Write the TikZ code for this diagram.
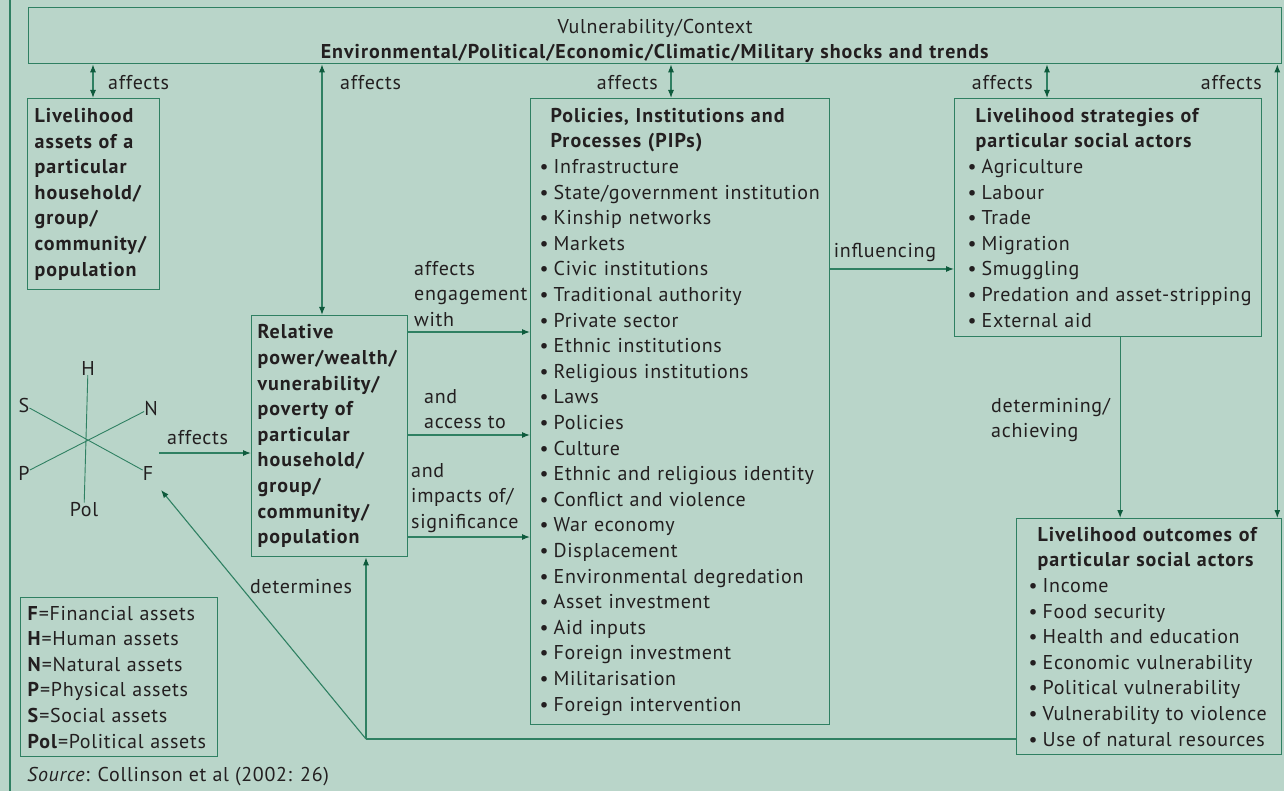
\documentclass[tikz,border=0pt]{standalone}
\usepackage{fontspec}
\setmainfont{PT Sans}[LetterSpace=3.5,BoldFeatures={LetterSpace=5}]
\usetikzlibrary{arrows.meta}

\definecolor{sage}{HTML}{B9D5C9}
\definecolor{rule}{HTML}{2F8062}
\definecolor{tip}{HTML}{0E5A3C}
\definecolor{ink}{HTML}{231F20}

\newcommand{\txtsize}{\fontsize{20}{25.6}\selectfont}
\newcommand{\itm}[1]{\\\mbox{\makebox[14pt][l]{\textbullet}#1}}
\newcommand{\ttl}[2][9pt]{\mbox{\hspace*{#1}\textbf{#2}}}

\tikzstyle{box} = [draw=rule,line width=1.3pt,anchor=north west,align=left,inner ysep=0pt,text=ink,font=\txtsize]
\tikzstyle{lbl} = [inner sep=0pt,text=ink,font=\txtsize]
\tikzstyle{plain} = [draw=rule,line width=1.1pt]
\tikzstyle{link} = [plain,-{Latex[length=8pt,width=6pt,color=tip]}]
\tikzstyle{both link} = [plain,{Latex[length=8pt,width=6pt,color=tip]}-{Latex[length=8pt,width=6pt,color=tip]}]

\begin{document}
\begin{tikzpicture}[x=1pt,y=-1pt]
			\useasboundingbox (0,0) rectangle (1284,791);
			\fill[sage] (0,0) rectangle (1284,791);
			\draw[plain] (10,0) -- (10,791);
			% First we draw the boxes
			\node[box,align=center,text width=1233pt,inner xsep=10pt,minimum height=56pt] (context) at (28,7)
				{\rule{0pt}{25pt}Vulnerability/Context\\\textbf{Environmental/Political/Economic/Climatic/Military shocks and trends}};
			\node[box,text width=118pt,inner xsep=7pt,minimum height=191pt] (assets) at (27,98)
				{\textbf{Livelihood\\assets of a\\particular\\household/\\group/\\community/\\population}};
			\node[box,text width=144pt,inner xsep=6pt,minimum height=241pt] (relative) at (251,315)
				{\textbf{Relative\\power/wealth/\\vunerability/\\poverty of\\particular\\household/\\group/\\community/\\population}};
			\node[box,text width=281pt,inner xsep=9pt,minimum height=626pt] (pips) at (530,98)
				{\ttl[11pt]{Policies, Institutions and}\\\ttl[11pt]{Processes (PIPs)}
				\itm{Infrastructure}\itm{State/government institution}\itm{Kinship networks}
				\itm{Markets}\itm{Civic institutions}\itm{Traditional authority}\itm{Private sector}
				\itm{Ethnic institutions}\itm{Religious institutions}\itm{Laws}\itm{Policies}
				\itm{Culture}\itm{Ethnic and religious identity}\itm{Conflict and violence}
				\itm{War economy}\itm{Displacement}\itm{Environmental degredation}
				\itm{Asset investment}\itm{Aid inputs}\itm{Foreign investment}
				\itm{Militarisation}\itm{Foreign intervention}};
			\node[box,text width=281pt,inner xsep=13pt,minimum height=238pt] (strat) at (954,98)
				{\ttl[8pt]{Livelihood strategies of}\\\ttl[8pt]{particular social actors}
				\itm{Agriculture}\itm{Labour}\itm{Trade}\itm{Migration}\itm{Smuggling}
				\itm{Predation and asset-stripping}\itm{External aid}};
			\node[box,text width=241pt,inner xsep=12pt,minimum height=236pt] (outcome) at (1016,518)
				{\ttl{Livelihood outcomes of}\\\ttl{particular social actors}
				\itm{Income}\itm{Food security}\itm{Health and education}
				\itm{Economic vulnerability}\itm{Political vulnerability}
				\itm{Vulnerability to violence}\itm{Use of natural resources}};
			\node[box,text width=183pt,inner xsep=7pt,minimum height=159pt] (legend) at (20,597)
				{\mbox{\textbf{F}=Financial assets}\\\mbox{\textbf{H}=Human assets}\\\mbox{\textbf{N}=Natural assets}\\
				\mbox{\textbf{P}=Physical assets}\\\mbox{\textbf{S}=Social assets}\\\mbox{\textbf{Pol}=Political assets}};
			% The asset star
			\node[lbl] (H) at (88,368) {H};
			\node[lbl] (S) at (24,405) {S};
			\node[lbl] (N) at (151,408) {N};
			\node[lbl] (P) at (24,473) {P};
			\node[lbl] (F) at (148,473) {F};
			\node[lbl] (Pol) at (84,510) {Pol};
			\draw[plain,line width=0.9pt] (H) -- (Pol) (S) -- (F) (N) -- (P);
			% Labels on the connectors
			\node[lbl,anchor=west] (af1) at (108,83) {affects};
			\node[lbl,anchor=west] (af2) at (340,83) {affects};
			\node[lbl,anchor=east] (af3) at (658,83) {affects};
			\node[lbl,anchor=east] (af4) at (1033,83) {affects};
			\node[lbl,anchor=east] (af5) at (1262,83) {affects};
			\node[lbl,anchor=west] (af6) at (167,438) {affects};
			\node[lbl,anchor=west,align=left] (eng) at (414,294) {affects\\engagement\\with};
			\node[lbl,anchor=west,align=left] (acc) at (424,409) {and\\access to};
			\node[lbl,anchor=west,align=left] (imp) at (411,498) {and\\impacts of/\\significance};
			\node[lbl] (infl) at (885,253) {influencing};
			\node[lbl,anchor=west,align=left] (det) at (991,420) {determining/\\achieving};
			\node[lbl,anchor=west] (dets) at (250,587) {determines};
			\node[lbl,anchor=west] (source) at (27,777) {\textit{Source}: Collinson et al (2002: 26)};
			% Free ends and corners
			\coordinate (fa) at (159,453);
			\coordinate (fd) at (161,490);
			\coordinate (jn) at (366,739);
			% Connect boxes with arrows
			\foreach \dest/\dx in {assets/66,relative/71,pips/141,strat/93}
				\path[both link] ([xshift=\dx pt]\dest.north west) -- ([xshift=\dx pt]\dest.north west |- context.south);
			\path[both link] ([xshift=-5pt]outcome.north east) -- ([xshift=-5pt]outcome.north east |- context.south);
			\foreach \y in {332,435,537}
				\path[link] (relative.east |- 0,\y) -- (pips.west |- 0,\y);
			\path[link] (pips.east |- 0,269) -- (strat.west |- 0,269);
			\path[link] ([xshift=12pt]strat.south) -- ([xshift=12pt]strat.south |- outcome.north);
			\path[link] (fa) -- (relative.west |- fa);
			\path[plain] (outcome.west |- jn) -- (jn);
			\path[link] (jn) -- (jn |- relative.south);
			\path[link] (jn) -- (fd);
		\end{tikzpicture}
\end{document}
